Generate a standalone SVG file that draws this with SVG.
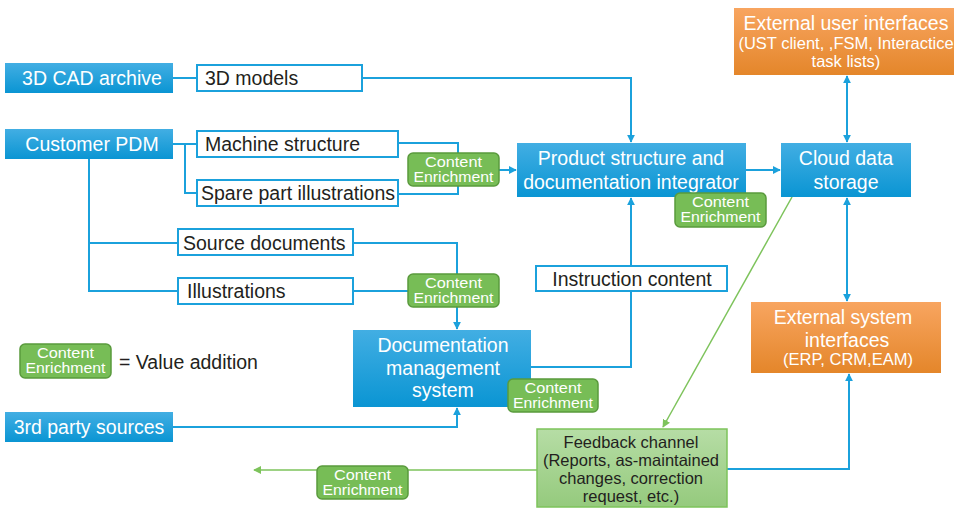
<svg xmlns="http://www.w3.org/2000/svg" width="955" height="508" viewBox="0 0 955 508">
<defs>
<linearGradient id="gBlue" x1="0" y1="0" x2="0" y2="1"><stop offset="0" stop-color="#42aee3"/><stop offset="1" stop-color="#0a95d3"/></linearGradient>
<linearGradient id="gOrange" x1="0" y1="0" x2="0" y2="1"><stop offset="0" stop-color="#f8a560"/><stop offset="1" stop-color="#e4862a"/></linearGradient>
<linearGradient id="gFeed" x1="0" y1="0" x2="0" y2="1"><stop offset="0" stop-color="#b6dda5"/><stop offset="1" stop-color="#95ca7d"/></linearGradient>
<marker id="aB" viewBox="0 0 10 10" refX="9" refY="5" markerWidth="8" markerHeight="8" markerUnits="userSpaceOnUse" orient="auto-start-reverse"><path d="M0,0 L10,5 L0,10 z" fill="#1ba1dc"/></marker>
<marker id="aG" viewBox="0 0 10 10" refX="9" refY="5" markerWidth="8" markerHeight="8" markerUnits="userSpaceOnUse" orient="auto-start-reverse"><path d="M0,0 L10,5 L0,10 z" fill="#7dc35b"/></marker>
</defs>
<style>
text{font-family:"Liberation Sans",Arial,sans-serif}
.blue{fill:url(#gBlue)}
.orange{fill:url(#gOrange)}
.wbox{fill:#fff;stroke:#1ba1dc;stroke-width:2}
.ce{fill:#77bd56;stroke:#5a9a3d;stroke-width:1.5}
.cet{fill:#fff;font-size:14.5px;text-anchor:middle}
.wt{fill:#fff;font-size:19.5px;text-anchor:middle}
.dt{fill:#231f20;font-size:19.5px}
.st{font-size:16.5px;text-anchor:middle}
.ln{fill:none;stroke:#1ba1dc;stroke-width:2}
.gl{fill:none;stroke:#7dc35b;stroke-width:1.5}
</style>
<g id="connectors">
<path class="ln" d="M173,78 H197"/>
<path class="ln" d="M362,78 H631 V142" marker-end="url(#aB)"/>
<path class="ln" d="M173,144 H197 M185,144 V193 H197"/>
<path class="ln" d="M398,143 H458 V153 M398,194 H458 V186"/>
<path class="ln" d="M499,170 H516" marker-end="url(#aB)"/>
<path class="ln" d="M746,170 H780" marker-end="url(#aB)"/>
<path class="ln" d="M847,76 V142" marker-start="url(#aB)" marker-end="url(#aB)"/>
<path class="ln" d="M847,198 V301" marker-start="url(#aB)" marker-end="url(#aB)"/>
<path class="ln" d="M89,159 V291 H178 M89,243 H178"/>
<path class="ln" d="M353,243 H457 V274 M353,291 H408"/>
<path class="ln" d="M457,307 V329" marker-end="url(#aB)"/>
<path class="ln" d="M173,427 H457 V408" marker-end="url(#aB)"/>
<path class="ln" d="M531,367 H631 V291"/>
<path class="ln" d="M631,266 V198" marker-end="url(#aB)"/>
<path class="gl" d="M792,197 L663,427" marker-end="url(#aG)"/>
<path class="ln" d="M727,469 H849 V374" marker-end="url(#aB)"/>
<path class="gl" d="M537,470 H254" marker-end="url(#aG)"/>
</g>
<g id="cad"><rect class="blue" x="5" y="63" width="168" height="30"/><text class="wt" x="92" y="85">3D CAD archive</text></g>
<g id="models"><rect class="wbox" x="197" y="65" width="165" height="26"/><text class="dt" x="205" y="85">3D models</text></g>
<g id="pdm"><rect class="blue" x="5" y="129" width="168" height="30"/><text class="wt" x="92" y="151">Customer PDM</text></g>
<g id="machine"><rect class="wbox" x="197" y="131" width="201" height="26"/><text class="dt" x="205" y="151">Machine structure</text></g>
<g id="spare"><rect class="wbox" x="197" y="180" width="201" height="26"/><text class="dt" x="201" y="200">Spare part illustrations</text></g>
<g id="ce1"><rect class="ce" x="408" y="153" width="91" height="33" rx="5"/><text class="cet" x="453.5" y="167" textLength="57" lengthAdjust="spacingAndGlyphs">Content</text><text class="cet" x="453.5" y="182" textLength="80" lengthAdjust="spacingAndGlyphs">Enrichment</text></g>
<g id="integrator"><rect class="blue" x="517" y="143" width="229" height="54"/><text class="wt" x="631" y="165">Product structure and</text><text class="wt" x="631" y="189">documentation integrator</text></g>
<g id="ce2"><rect class="ce" x="675" y="193" width="91" height="34" rx="5"/><text class="cet" x="720.5" y="207" textLength="57" lengthAdjust="spacingAndGlyphs">Content</text><text class="cet" x="720.5" y="222" textLength="80" lengthAdjust="spacingAndGlyphs">Enrichment</text></g>
<g id="cloud"><rect class="blue" x="781" y="143" width="130" height="54"/><text class="wt" x="846" y="165">Cloud data</text><text class="wt" x="846" y="189">storage</text></g>
<g id="extuser"><rect class="orange" x="734" y="8" width="220" height="67"/><text class="wt" x="846" y="30">External user interfaces</text><text class="wt st" x="846" y="49">(UST client, ,FSM, Interactice</text><text class="wt st" x="846" y="67">task lists)</text></g>
<g id="srcdocs"><rect class="wbox" x="178" y="229" width="175" height="26"/><text class="dt" x="183" y="250">Source documents</text></g>
<g id="illus"><rect class="wbox" x="178" y="278" width="175" height="26"/><text class="dt" x="187" y="298">Illustrations</text></g>
<g id="ce3"><rect class="ce" x="408" y="274" width="91" height="33" rx="5"/><text class="cet" x="453.5" y="288" textLength="57" lengthAdjust="spacingAndGlyphs">Content</text><text class="cet" x="453.5" y="303" textLength="80" lengthAdjust="spacingAndGlyphs">Enrichment</text></g>
<g id="instr"><rect class="wbox" x="536" y="266" width="191" height="25"/><text class="dt" x="632" y="286" text-anchor="middle">Instruction content</text></g>
<g id="legend"><rect class="ce" x="20" y="344" width="91" height="34" rx="5"/><text class="cet" x="65.5" y="358" textLength="57" lengthAdjust="spacingAndGlyphs">Content</text><text class="cet" x="65.5" y="373" textLength="80" lengthAdjust="spacingAndGlyphs">Enrichment</text><text class="dt" x="119" y="369">= Value addition</text></g>
<g id="docmgmt"><rect class="blue" x="353" y="330" width="178" height="77"/><text class="wt" x="443" y="352">Documentation</text><text class="wt" x="443" y="375">management</text><text class="wt" x="443" y="397">system</text></g>
<g id="ce4"><rect class="ce" x="508" y="379" width="90" height="33" rx="5"/><text class="cet" x="553" y="393" textLength="57" lengthAdjust="spacingAndGlyphs">Content</text><text class="cet" x="553" y="408" textLength="80" lengthAdjust="spacingAndGlyphs">Enrichment</text></g>
<g id="extsys"><rect class="orange" x="751" y="302" width="190" height="71"/><text class="wt" x="843" y="324">External system</text><text class="wt" x="847" y="347">interfaces</text><text class="wt st" x="848" y="365">(ERP, CRM,EAM)</text></g>
<g id="third"><rect class="blue" x="5" y="412" width="168" height="30"/><text class="wt" x="89" y="434">3rd party sources</text></g>
<g id="feedback"><rect x="537" y="429" width="190" height="78" fill="url(#gFeed)" stroke="#7dc35b" stroke-width="1.5"/><text class="st" fill="#231f20" x="631" y="448">Feedback channel</text><text class="st" fill="#231f20" x="631" y="466">(Reports, as-maintained</text><text class="st" fill="#231f20" x="631" y="484">changes, correction</text><text class="st" fill="#231f20" x="631" y="502">request, etc.)</text></g>
<g id="ce5"><rect class="ce" x="317" y="466" width="91" height="33" rx="5"/><text class="cet" x="362.5" y="480" textLength="57" lengthAdjust="spacingAndGlyphs">Content</text><text class="cet" x="362.5" y="495" textLength="80" lengthAdjust="spacingAndGlyphs">Enrichment</text></g>
</svg>
